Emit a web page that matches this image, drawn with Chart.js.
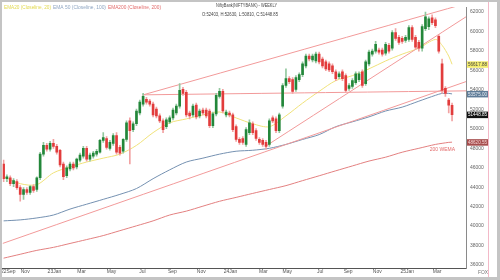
<!DOCTYPE html>
<html>
<head>
<meta charset="utf-8">
<script src="https://cdn.jsdelivr.net/npm/chart.js@4.4.1/dist/chart.umd.min.js"></script>
<style>
    html, body { margin: 0; padding: 0; background: #fff; }
</style>
</head>
<body>
<canvas id="bank-chart" width="500" height="280"></canvas>
<script>
// weekly candles, oldest first
const opens = [
    46380,44870,44970,44360,44570,43960,43260,43760,43460,44060,
    43760,44970,47390,48290,47890,48500,48190,47790,46380,45170,
    45880,46380,46080,46780,47190,47990,46880,47190,47390,47590,
    48800,49000,47990,48500,49300,48090,47690,48900,50810,49910,
    50510,51620,52530,53030,52830,52530,52020,51320,50810,50210,
    50710,51110,51620,52320,54040,53730,51620,51420,52420,51320,
    51920,51920,51820,50310,51520,53330,53840,51420,51620,51420,
    50210,48900,49000,48390,49600,50510,49800,48900,48800,48600,
    48390,51110,51010,49800,52320,54440,55140,55040,54040,55040,
    55550,56450,57460,57060,56960,57660,57160,56860,56660,56450,
    55850,55350,55850,55450,54140,54340,54740,55040,55850,54640,
    56660,57660,57970,58070,58070,57760,58570,58270,59880,59380,
    59280,59070,59170,60380,59380,58870,58270,60280,60480,61390,
    61190,59480,56660,54140,52930,52403
];
const highs = [
    46780,45270,45170,44870,44770,44160,43960,43960,44160,44260,
    45070,47590,48600,48500,48700,48900,48390,47890,46580,46180,
    46580,46580,46980,47490,48190,48190,47490,47690,47890,48900,
    49600,49200,48800,49500,49600,48290,49000,50810,51110,50710,
    52020,52930,53630,53230,53030,52730,52220,51520,51010,51110,
    51320,52120,52530,54640,54240,53940,51820,52530,52630,52020,
    52120,52120,52020,51720,53630,54140,54040,51920,51820,51620,
    50410,49100,49200,50110,50910,50710,50010,49100,49000,48800,
    51010,51320,51220,51620,54640,56150,55350,55250,55450,55750,
    56860,57660,57660,57660,57860,57860,57360,57060,56860,56660,
    56050,55850,56050,55650,54640,55140,55850,55850,56050,57060,
    58070,58170,58970,58270,58270,58870,58770,60080,60280,59580,
    59480,59580,60590,60590,59580,59070,60690,61990,61490,61690,
    61390,59680,57160,54340,53130,52630
];
const lows = [
    44570,44570,44160,44060,43760,42550,42750,43260,43260,43460,
    43560,44770,47190,47690,47690,47990,47390,46080,44770,44970,
    45680,45780,45880,46580,46980,46680,46680,46980,47190,47490,
    48600,47890,47790,48290,47390,47290,47490,48700,46380,49700,
    50310,51420,52320,52530,52320,51220,51110,50610,49600,50010,
    50510,50910,51420,52120,53430,51220,51010,51220,51010,51110,
    51420,51110,50110,50110,51320,53130,51620,51220,51220,49700,
    48700,48390,48390,48190,49400,49400,48800,48390,48190,47890,
    48190,50610,49600,49600,52120,54240,54640,53630,53840,54840,
    55350,56250,56960,56860,56760,56660,56250,55950,55850,55650,
    54940,55140,54940,53730,53940,54140,54540,54840,54240,54440,
    56450,57460,57760,57660,57460,57560,57760,58070,59070,58670,
    58770,58870,58970,58970,58170,57970,57970,60080,60180,60690,
    60380,57760,53630,53330,51620,50810
];
const closes = [
    44870,45070,44360,44670,43960,43260,43760,43460,44060,43660,
    44970,47390,48290,47890,48500,48190,47590,46280,45070,45980,
    46380,45980,46880,47290,47990,46880,47290,47490,47690,48800,
    49100,48090,48600,49300,47590,47490,48900,50610,49800,50510,
    51820,52730,53330,52730,52530,51420,51320,50810,49910,50910,
    51110,51920,52320,53940,53630,51420,51320,52320,51220,51820,
    51620,51320,50310,51520,53430,53840,51820,51720,51420,49910,
    48900,48600,48600,49910,50610,49600,49000,48600,48390,48190,
    50810,50810,49800,51420,54440,55140,54840,53840,55250,55550,
    56660,57460,57160,57460,57660,56860,56450,56150,56050,55850,
    55140,55650,55140,53940,54440,54940,55650,55650,54440,56860,
    57860,57970,58670,57860,57660,58670,57970,59880,59280,58870,
    58970,59380,60380,59170,58370,58270,60480,61490,61290,60890,
    60590,57970,53940,53630,52420,51448.85
];

// moving averages, read at these candle positions
const emaIdx = [0,5,10,15,20,25,30,35,40,45,50,55,60,65,70,75,80,85,90,95,100,105,110,115,120,125,130,132,134,135];
const ema20 = [45070,44360,44260,45470,46080,46580,46980,47390,48290,49600,50610,51010,51420,51720,51110,50510,50210,51320,52630,53840,54940,55450,56150,56960,57660,58270,59170,58570,57460,56617.88];
const ema50 = [40540,40640,40840,41140,41750,42250,42750,43260,43860,44870,45780,46580,46980,47390,47690,47790,47990,48390,48900,49400,50210,50710,51220,51820,52220,52830,53430,53630,53630,53575];
const ema200 = [36710,37110,37510,37820,38220,38620,39030,39530,40030,40540,41140,41540,42050,42550,42950,43360,43760,44160,44670,45170,45680,46180,46680,47080,47590,47990,48390,48500,48600,48620.55];

// drawn trend lines: [candle position, price]
const trendUpper = [[41.8, 53460], [139.2, 62860]];
const trendFlat = [[41.8, 53480], [139.2, 53890]];
const trendLower = [[78.8, 48190], [139.2, 61490]];
const trendLong = [[-0.3, 38220], [139.2, 54840]];

const tickIdx = [1.4,6.5,15.3,23.5,32.5,41.8,50.8,59.5,68.3,78.2,85.4,95.3,103.7,112.5,121.5,130.5];
const tickLabels = ['22Sep','Nov','23Jan','Mar','May','Jul','Sep','Nov','24Jan','Mar','May','Jul','Sep','Nov','25Jan','Mar'];
const priceTicks = [36000,38000,40000,42000,44000,46000,48000,50000,52000,54000,56000,58000,60000,62000];

const GREEN = '#23873a';
const RED = '#e23c3c';
const FONT = 'Liberation Sans';

Chart.defaults.font.family = FONT;

const last = closes.length - 1;
const isUp = i => closes[i] >= opens[i];
const pairs = (xs, ys) => ys.map((v, k) => ({x: xs[k], y: v}));
const seg = arr => arr.map(p => ({x: p[0], y: p[1]}));

const lineSet = (data, color) => ({
    type: 'line',
    data: data,
    borderColor: color,
    borderWidth: 1,
    pointRadius: 0,
    tension: 0.3,
    order: 3,
});

let extras = {
    id: 'extras',
    beforeDraw(chart) {
        const ctx = chart.ctx;
        ctx.save();
        ctx.fillStyle = '#fff';
        ctx.fillRect(0, 0, chart.width, chart.height);
        ctx.restore();
    },
    afterDraw(chart) {
        const ctx = chart.ctx;
        const area = chart.chartArea;
        const ys = chart.scales.y;
        const xs = chart.scales.x;
        ctx.save();

        // pink edge right of the price labels
        ctx.strokeStyle = '#f3b9c8';
        ctx.lineWidth = 1;
        ctx.beginPath();
        ctx.moveTo(488.5, 0);
        ctx.lineTo(488.5, 280);
        ctx.stroke();

        // last value tags
        const tags = [
            {v: ema20[ema20.length - 1], bg: '#f3ec6c', fg: '#444'},
            {v: ema50[ema50.length - 1], bg: '#5f7c98', fg: '#e8eef4'},
            {v: closes[last], bg: '#121212', fg: '#fff'},
            {v: ema200[ema200.length - 1], bg: '#a64d4d', fg: '#f6d6d6'},
        ];
        ctx.font = '5px ' + FONT;
        ctx.textAlign = 'center';
        ctx.textBaseline = 'middle';
        tags.forEach(t => {
            const y = ys.getPixelForValue(t.v);
            ctx.fillStyle = t.bg;
            ctx.fillRect(area.right + 1, y - 3, 21, 6.5);
            ctx.fillStyle = t.fg;
            ctx.fillText(t.v.toFixed(2), area.right + 11.5, y + 0.3, 19);
        });

        // label of the long average
        ctx.fillStyle = '#e36a6a';
        ctx.textAlign = 'right';
        ctx.fillText('200 WEMA', xs.getPixelForValue(emaIdx[emaIdx.length - 1]) + 3, ys.getPixelForValue(ema200[ema200.length - 1]) + 7, 27);

        // legend and header
        ctx.textAlign = 'left';
        ctx.fillStyle = '#e2d94e';
        ctx.fillText('EMA20 (Closeline, 20)', 4, 7.5, 47);
        ctx.fillStyle = '#8fa6c2';
        ctx.fillText('EMA 50 (Closeline, 100)', 53, 7.5, 53);
        ctx.fillStyle = '#e26a6a';
        ctx.fillText('EMA200 (Closeline, 200)', 108, 7.5, 53);
        ctx.fillStyle = '#444';
        ctx.fillText('NiftyBank(NIFTYBANK) - WEEKLY', 216, 5.5, 61);
        ctx.fillText('O:' + opens[last] + ', H:' + highs[last] + ', L:' + lows[last] + ', C:' + closes[last], 202, 14.5, 76);

        ctx.fillStyle = '#777';
        ctx.fillText('FOX', 478, 273, 10);

        // window frame
        ctx.fillStyle = '#c4c4c4';
        ctx.fillRect(0, 0, 500, 2);
        ctx.fillRect(0, 0, 2, 280);
        ctx.fillRect(0, 277, 500, 3);
        ctx.fillRect(497, 0, 3, 280);
        ctx.restore();
    }
};

let canvas = document.getElementById('bank-chart');
let bankChart = new Chart(canvas, {
    type: 'bar',
    data: {
        datasets: [
            lineSet(seg(trendLong), '#f29a9a'),
            lineSet(seg(trendUpper), '#f29a9a'),
            lineSet(seg(trendFlat), '#f29a9a'),
            lineSet(seg(trendLower), '#f29a9a'),
            lineSet(pairs(emaIdx, ema200), '#e38080'),
            lineSet(pairs(emaIdx, ema50), '#7591b1'),
            lineSet(pairs(emaIdx, ema20), '#f0e27a'),
            {
                data: closes.map((c, i) => ({x: i, y: [lows[i], highs[i]]})),
                backgroundColor: ctx => isUp(ctx.dataIndex) ? '#93c89f' : '#f2a2a2',
                barThickness: 1,
                grouped: false,
                order: 2,
            },
            {
                data: closes.map((c, i) => ({x: i, y: [opens[i], c]})),
                backgroundColor: ctx => isUp(ctx.dataIndex) ? GREEN : RED,
                barThickness: 2,
                minBarLength: 1,
                grouped: false,
                order: 1,
            },
        ]
    },
    options: {
        responsive: false,
        animation: false,
        layout: { padding: { left: 2, top: 3, right: 12, bottom: 0 } },
        plugins: {
            legend: { display: false },
            tooltip: { enabled: false },
        },
        scales: {
            x: {
                type: 'linear',
                min: -0.3,
                max: 139.2,
                offset: false,
                grid: { display: false, drawTicks: false },
                border: { color: '#555', width: 1 },
                afterBuildTicks: axis => { axis.ticks = tickIdx.map(v => ({value: v})); },
                afterFit: axis => { axis.height = 12; },
                ticks: {
                    autoSkip: false,
                    maxRotation: 0,
                    padding: 1,
                    color: '#555',
                    font: { size: 5 },
                    callback: (v, i) => tickLabels[i],
                },
            },
            y: {
                position: 'right',
                min: 35700,
                max: 62500,
                grid: { display: false, drawTicks: false },
                border: { color: '#8a8a8a', width: 1 },
                afterBuildTicks: axis => { axis.ticks = priceTicks.map(v => ({value: v})); },
                afterFit: axis => { axis.width = 22; },
                ticks: {
                    padding: 4,
                    color: '#666',
                    font: { size: 5 },
                    callback: v => String(v),
                },
            },
        },
    },
    plugins: [extras],
});
window.bankChart = bankChart;
</script>
</body>
</html>
